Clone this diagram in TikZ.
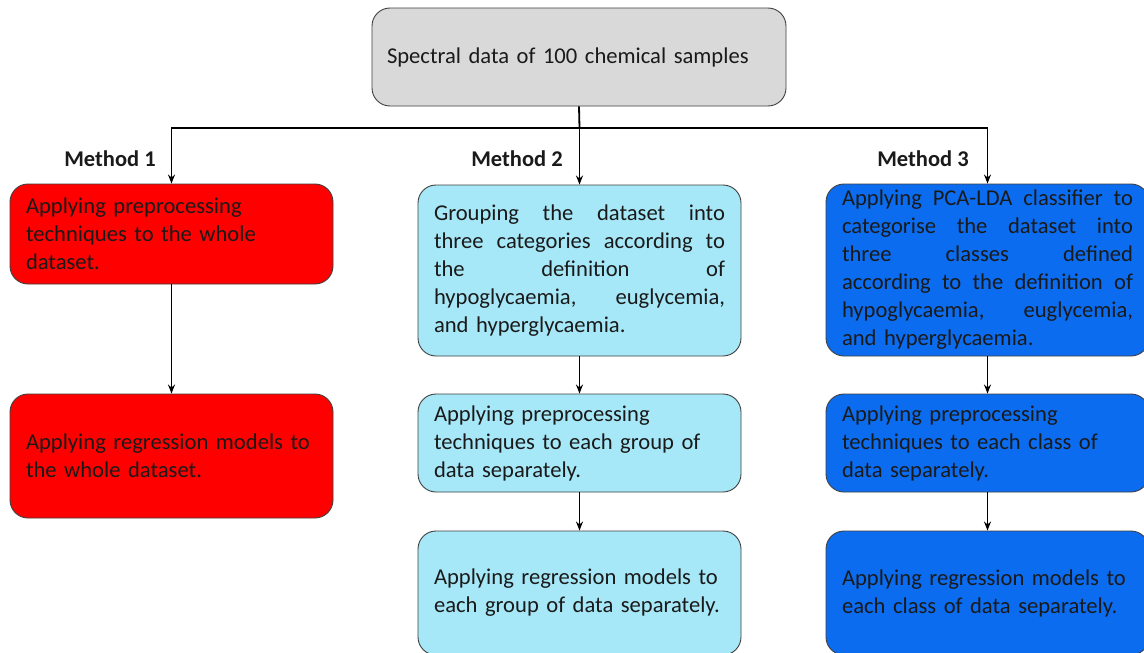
\documentclass[tikz,border=0pt]{standalone}
\usepackage{fontspec}
\setmainfont{Carlito}
\usetikzlibrary{arrows.meta}
\definecolor{boxgray}{HTML}{D9D9D9}
\definecolor{boxred}{HTML}{FF0000}
\definecolor{boxcyan}{HTML}{A6E8F7}
\definecolor{boxblue}{HTML}{0B6CF0}
\definecolor{edgegray}{HTML}{404040}
\definecolor{txt}{HTML}{1A1A1A}
\newcommand{\jline}[1]{\leavevmode\hbox to 291pt{#1}}
\tikzset{
  box/.style={draw=edgegray, line width=0.9pt, rounded corners=18pt, inner sep=0pt,
    minimum width=323pt, text width=291pt, align=left, text=txt,
    font=\fontsize{22.6}{28}\selectfont},
  redbox/.style={box, fill=boxred},
  cyanbox/.style={box, fill=boxcyan},
  bluebox/.style={box, fill=boxblue},
  methodlabel/.style={font=\fontsize{22.5}{26}\selectfont\bfseries, text=txt, inner sep=0pt},
  conn/.style={line width=1.8pt, draw=black},
  arr/.style={conn, -{Stealth[length=9pt,width=7pt]}}
}
\begin{document}
\begin{tikzpicture}[x=1pt,y=-1pt]
\useasboundingbox (0,0) rectangle (1144,653);
\fill[white] (0,0) rectangle (1144,653);
\clip (0,0) rectangle (1144,653);

\node[box, fill=boxgray, minimum width=414pt, minimum height=98pt, text width=384pt] (top) at (579,57) {Spectral data of 100 chemical samples};

\node[methodlabel] (m1) at (110,159) {Method 1};
\node[methodlabel] (m2) at (517,159) {Method 2};
\node[methodlabel] (m3) at (923,159) {Method 3};

\node[redbox, minimum height=100pt] (r1) at (171.5,234) {Applying preprocessing\\ techniques to the whole\\ dataset.};
\node[redbox, minimum height=124pt] (r2) at (171.5,456) {Applying regression models to\\ the whole dataset.};

\node[cyanbox, minimum height=171pt] (c1) at (579.5,270.5) {\jline{Grouping\hfill the\hfill dataset\hfill into}\\ \jline{three\hfill categories\hfill according\hfill to}\\ \jline{the\hfill definition\hfill of}\\ \jline{hypoglycaemia,\hfill euglycemia,}\\ and hyperglycaemia.};
\node[cyanbox, minimum height=98pt] (c2) at (579.5,443) {Applying preprocessing\\ techniques to each group of\\ data separately.};
\node[cyanbox, minimum height=124pt] (c3) at (579.5,593) {Applying regression models to\\ each group of data separately.};

\node[bluebox, minimum height=172pt] (b1) at (987.5,270) {\jline{Applying\hfill PCA-LDA\hfill classifier\hfill to}\\ \jline{categorise\hfill the\hfill dataset\hfill into}\\ \jline{three\hfill classes\hfill defined}\\ \jline{according\hfill to\hfill the\hfill definition\hfill of}\\ \jline{hypoglycaemia,\hfill euglycemia,}\\ and hyperglycaemia.};
\node[bluebox, minimum height=98pt] (b2) at (987.5,443) {Applying preprocessing\\ techniques to each class of\\ data separately.};
\node[bluebox, minimum height=124pt] (b3) at (987.5,593) {Applying regression models to\\ each class of data separately.};

\coordinate (bus) at (579.5,128);
\draw[conn] (top.south) -- (bus);
\draw[arr] (bus) -| (r1.north);
\draw[arr] (bus) -- (c1.north);
\draw[arr] (bus) -| (b1.north);

\draw[arr] (r1) -- (r2);
\draw[arr] (c1) -- (c2);
\draw[arr] (c2) -- (c3);
\draw[arr] (b1) -- (b2);
\draw[arr] (b2) -- (b3);
\end{tikzpicture}
\end{document}
